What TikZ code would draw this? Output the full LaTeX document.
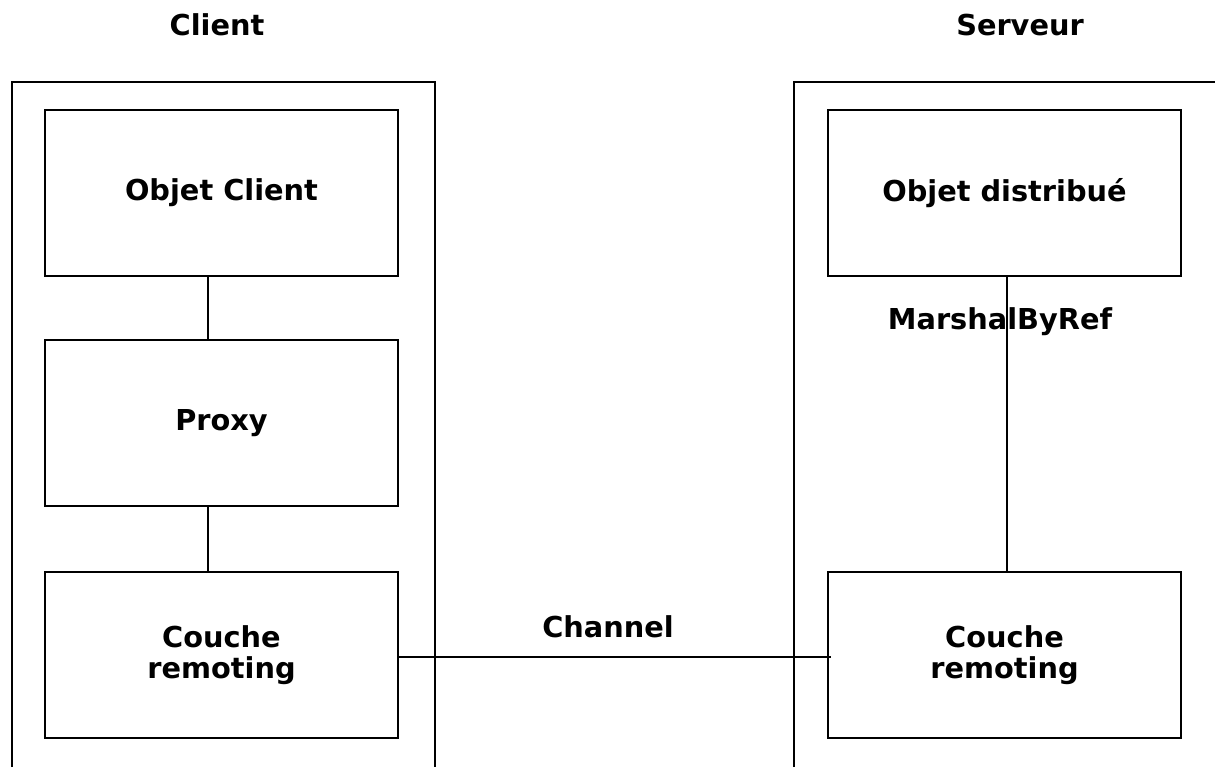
\documentclass[tikz,border=0pt]{standalone}
\usepackage{fontspec}
\setmainfont{DejaVu Sans}
\begin{document}
\begin{tikzpicture}[x=0.5pt,y=-0.5pt,
  line width=1.2pt,
  lbl/.style={font=\bfseries\fontsize{14.4}{15.5}\selectfont, inner sep=0pt, align=center},
  box/.style={draw, line width=1.2pt, minimum width=176.5pt, minimum height=83pt, lbl}]
\useasboundingbox (0,0) rectangle (1215,767);

% outer containers (open at the bottom / right)
\draw (12,767) -- (12,82) -- (435,82) -- (435,767);
\draw (794,767) -- (794,82) -- (1215,82);

\node[lbl] (tclient) at (217,25) {Client};
\node[lbl] (tserver) at (1020,25) {Serveur};

% client side
\node[box] (objc)  at (221.5,193) {Objet Client};
\node[box] (proxy) at (221.5,423) {Proxy};
\node[box] (remc)  at (221.5,655) {Couche\\remoting};

% server side
\node[box] (objd)  at (1004.5,193) {Objet distribué};
\node[box] (rems)  at (1004.5,655) {Couche\\remoting};

\coordinate (cx) at (208,0);
\coordinate (sx) at (1007,0);
\draw (objc.south -| cx) -- (proxy.north -| cx);
\draw (proxy.south -| cx) -- (remc.north -| cx);
\draw (objd.south -| sx) -- (rems.north -| sx);
\node[lbl] (mbr) at (1000,322) {MarshalByRef};

\coordinate (chy) at (0,657);
\draw (remc.east |- chy) -- ([xshift=2pt]rems.west |- chy);
\node[lbl] (chan) at (608,627) {Channel};
\end{tikzpicture}
\end{document}
